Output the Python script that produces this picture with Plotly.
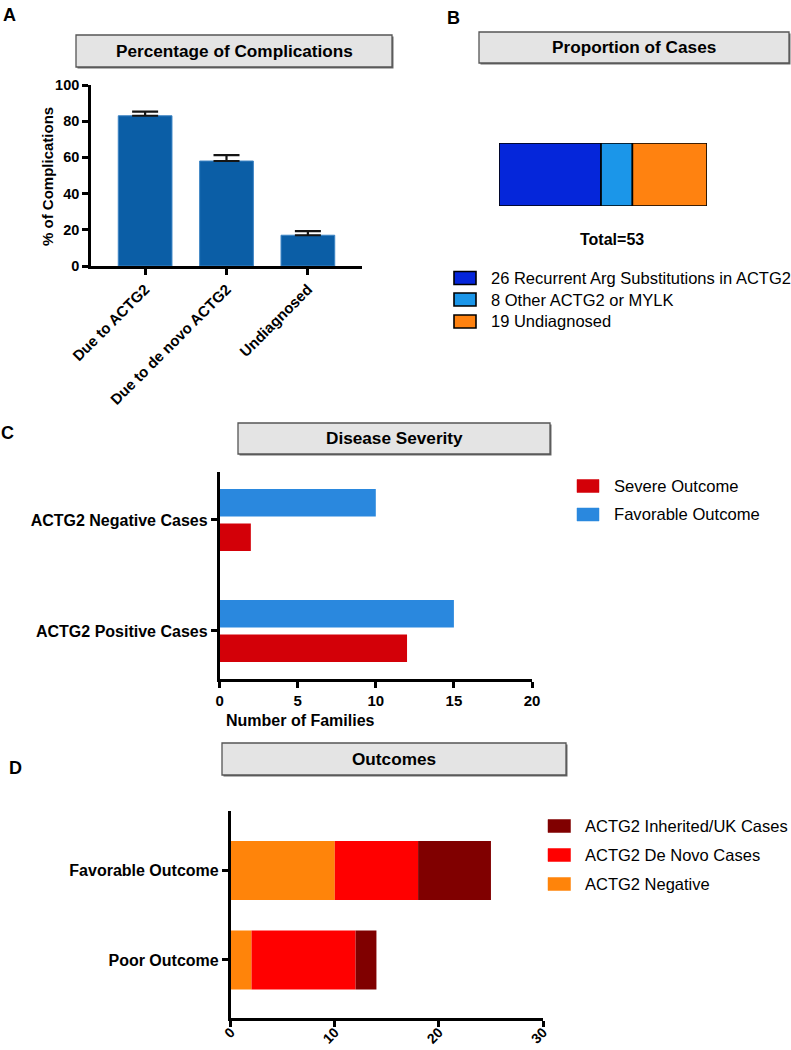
import numpy as np
import plotly.graph_objects as go

W, H = 791, 1050
FONT = "Liberation Sans, Arial, Helvetica, sans-serif"

# ---------------- data ----------------
# Panel A
a_categories = ["Due to ACTG2", "Due to de novo ACTG2", "Undiagnosed"]
a_values = [83, 58, 17]
a_errors = [2.3, 3.3, 2.3]

# Panel B
b_labels = ["26 Recurrent Arg Substitutions in ACTG2", "8 Other ACTG2 or MYLK", "19 Undiagnosed"]
b_counts = [26, 8, 19]

# Panel C
c_categories = ["ACTG2 Positive Cases", "ACTG2 Negative Cases"]
c_series_names = ["Severe Outcome", "Favorable Outcome"]
c_severe = [12, 2]
c_favorable = [15, 10]

# Panel D
d_categories = ["Poor Outcome", "Favorable Outcome"]
d_series_names = ["ACTG2 Negative", "ACTG2 De Novo Cases", "ACTG2 Inherited/UK Cases"]
d_negative = [2, 10]
d_denovo = [10, 8]
d_inherited = [2, 7]

# ---------------- helpers ----------------
def px(x):
    return x / W


def py(y):
    return 1 - y / H


def bold(size):
    return dict(family=FONT, size=size, color="black", weight="bold")


def reg(size):
    return dict(family=FONT, size=size, color="black")


axis_style = dict(showline=True, linecolor="black", linewidth=2.6, ticks="outside",
                  ticklen=6, tickwidth=2.6, tickcolor="black", showgrid=False,
                  zeroline=False, mirror=False)

A_COLOR = "#0B5EA6"
B_COLORS = ["#0526DA", "#1B96E9", "#FF8210"]
C_COLORS = ["#D30008", "#2A88DE"]
D_COLORS = ["#FF840A", "#FF0000", "#800000"]

fig = go.Figure()

# Panel A
fig.add_trace(go.Bar(
    x=a_categories, y=a_values, width=0.66,
    marker=dict(color=A_COLOR, line=dict(color="#3C84C4", width=1)),
    error_y=dict(type="data", symmetric=False, array=a_errors, arrayminus=[0] * len(a_errors),
                 color="#151515", thickness=2.2, width=13),
    xaxis="x", yaxis="y", showlegend=False, hoverinfo="skip"))

# Panel B (stacked single bar)
b_bases = np.concatenate([[0], np.cumsum(b_counts)[:-1]])
for lab, cnt, base, col in zip(b_labels, b_counts, b_bases, B_COLORS):
    fig.add_trace(go.Bar(
        x=[cnt], y=["cases"], base=[base], orientation="h", width=1, offsetgroup="b",
        marker=dict(color=col, line=dict(color="black", width=1.6)),
        name=lab, showlegend=False, xaxis="x2", yaxis="y2", hoverinfo="skip"))

# Panel C (grouped)
for name, vals, col in zip(c_series_names, [c_severe, c_favorable], C_COLORS):
    fig.add_trace(go.Bar(
        y=c_categories, x=vals, orientation="h", name=name,
        marker=dict(color=col), showlegend=False,
        xaxis="x3", yaxis="y3", hoverinfo="skip"))

# Panel D (stacked)
d_base = np.zeros(len(d_categories))
for name, vals, col in zip(d_series_names, [d_negative, d_denovo, d_inherited], D_COLORS):
    fig.add_trace(go.Bar(
        y=d_categories, x=vals, base=d_base.copy(), orientation="h", width=0.66,
        offsetgroup="d", marker=dict(color=col), name=name, showlegend=False,
        xaxis="x4", yaxis="y4", hoverinfo="skip"))
    d_base = d_base + np.array(vals)

# ---------------- layout ----------------
layout = dict(
    width=W, height=H, margin=dict(l=0, r=0, t=0, b=0),
    template="none", paper_bgcolor="white", plot_bgcolor="white",
    font=reg(14), barmode="group", bargap=0.38, bargroupgap=0.2, showlegend=False,
    xaxis=dict(domain=[px(91), px(362)], anchor="y", type="category",
               range=[-0.665, 2.665], tickangle=-45, tickfont=bold(15), **axis_style),
    yaxis=dict(domain=[py(266), py(85)], anchor="x", range=[0, 100], dtick=20,
               tickfont=bold(14.5), **axis_style),
    xaxis2=dict(domain=[px(499), px(707)], anchor="y2", range=[0, sum(b_counts)], visible=False),
    yaxis2=dict(domain=[py(206), py(143)], anchor="x2", range=[-0.5, 0.5], visible=False),
    xaxis3=dict(domain=[px(219.6), px(532)], anchor="y3", range=[0, 20], dtick=5,
                tickfont=bold(15), **axis_style),
    yaxis3=dict(domain=[py(678.7), py(471.7)], anchor="x3", type="category",
                categoryorder="array", categoryarray=c_categories,
                range=[-0.43, 1.435], tickfont=bold(16), **axis_style),
    xaxis4=dict(domain=[px(230.7), px(543)], anchor="y4", range=[0, 30], dtick=10,
                tickangle=-45, tickfont=bold(14), ticklabelstandoff=-8, **axis_style),
    yaxis4=dict(domain=[py(1018), py(811)], anchor="x4", type="category",
                categoryorder="array", categoryarray=d_categories,
                range=[-0.65, 1.667], tickfont=bold(16), **axis_style),
)
fig.update_layout(**layout)

shapes = []
annotations = []

# title boxes
boxes = [("Percentage of Complications", 76, 35, 392, 67),
         ("Proportion of Cases", 479, 32, 789, 63),
         ("Disease Severity", 238, 423, 550, 454),
         ("Outcomes", 222, 743, 566, 775)]
for text, x0, y0, x1, y1 in boxes:
    shapes.append(dict(type="rect", xref="paper", yref="paper",
                       x0=px(x0 + 1.5), x1=px(x1 + 1.5), y0=py(y1 + 1.5), y1=py(y0 + 1.5),
                       fillcolor="#6A6A6A", line=dict(width=0), layer="above"))
    shapes.append(dict(type="rect", xref="paper", yref="paper",
                       x0=px(x0), x1=px(x1), y0=py(y1), y1=py(y0),
                       fillcolor="#E4E4E4", line=dict(color="#555555", width=1.3), layer="above"))
    annotations.append(dict(text=text, xref="paper", yref="paper",
                            x=px((x0 + x1) / 2), y=py((y0 + y1) / 2),
                            xanchor="center", yanchor="middle", showarrow=False, font=bold(17.2)))


# manual legends (box + text)
def add_legend(labels, colors, bx0, bx1, tx, rows, size, border):
    for lab, col, yc in zip(labels, colors, rows):
        shapes.append(dict(type="rect", xref="paper", yref="paper",
                           x0=px(bx0), x1=px(bx1), y0=py(yc + 6.5), y1=py(yc - 6.5),
                           fillcolor=col,
                           line=dict(color="black" if border else col, width=1.6 if border else 0.5),
                           layer="above"))
        annotations.append(dict(text=lab, xref="paper", yref="paper", x=px(tx), y=py(yc),
                                xanchor="left", yanchor="middle", showarrow=False, font=reg(size)))


add_legend(b_labels, B_COLORS, 454, 476, 489, [278, 299.5, 321.5], 16.5, True)
add_legend(c_series_names, C_COLORS, 577, 599, 612, [486, 514.5], 16.6, False)
add_legend(list(reversed(d_series_names)), list(reversed(D_COLORS)), 548, 570.5, 583,
           [826, 855, 884], 16.5, False)

# panel letters
for letter, x, y in [("A", 9, 15), ("B", 453, 18), ("C", 7, 433), ("D", 15, 768)]:
    annotations.append(dict(text=letter, xref="paper", yref="paper", x=px(x), y=py(y),
                            xanchor="center", yanchor="middle", showarrow=False, font=bold(18)))

annotations.append(dict(text="% of Complications", xref="paper", yref="paper",
                        x=px(47), y=py(177), textangle=-90, xanchor="center", yanchor="middle",
                        showarrow=False, font=bold(15)))
annotations.append(dict(text=f"Total={sum(b_counts)}", xref="paper", yref="paper",
                        x=px(612), y=py(240), xanchor="center", yanchor="middle",
                        showarrow=False, font=bold(16)))
annotations.append(dict(text="Number of Families", xref="paper", yref="paper",
                        x=px(300), y=py(720), xanchor="center", yanchor="middle",
                        showarrow=False, font=bold(16)))

fig.update_layout(shapes=shapes, annotations=annotations)
fig.write_html("out.html", config={"displayModeBar": False},
               post_script="document.body.style.margin='0px';document.body.style.overflow='hidden';")
